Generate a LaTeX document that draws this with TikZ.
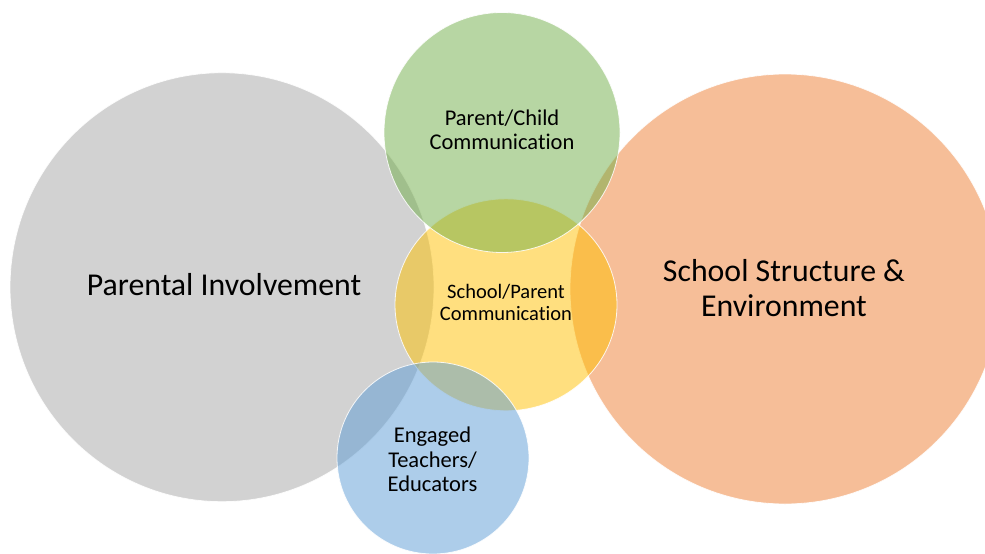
\documentclass[tikz,border=0pt]{standalone}
\usepackage{fontspec}
\setmainfont{Carlito}[Ligatures=NoCommon]
\begin{document}
\begin{tikzpicture}[x=1pt,y=-1pt,
  venn/.style={fill=#1, fill opacity=0.5, draw=white, draw opacity=0.85, line width=0.8pt},
  bigtext/.style={font=\fontsize{31.8}{35}\selectfont, align=center, text=black, inner sep=0pt},
  smalltext/.style={font=\fontsize{22.5}{24.5}\selectfont, align=center, text=black, inner sep=0pt},
  midtext/.style={font=\fontsize{20.5}{22}\selectfont, align=center, text=black, inner sep=0pt}]
\definecolor{vgray}{HTML}{A5A5A5}
\definecolor{vorange}{HTML}{ED7D31}
\definecolor{vyellow}{HTML}{FFC000}
\definecolor{vgreen}{HTML}{70AD47}
\definecolor{vblue}{HTML}{5B9BD5}
\useasboundingbox (0,0) rectangle (985,554);
\clip (0,0) rectangle (985,554);
% circles, back to front
\path[venn=vgray]   (222,287.2) ellipse [x radius=212, y radius=214.5];
\path[venn=vorange] (785,289)   ellipse [x radius=215, y radius=215];
\path[venn=vyellow] (506,304.8) ellipse [x radius=111, y radius=106];
\path[venn=vgreen]  (502,132.5) ellipse [x radius=118, y radius=120];
\path[venn=vblue]   (433,458)   ellipse [x radius=96,  y radius=96];
% labels
\node[bigtext]   (pi)  at (224,285)   {Parental Involvement};
\node[bigtext]   (sse) at (784,287.7) {School Structure \&\\Environment};
\node[smalltext] (pcc) at (502,130)   {Parent/Child\\Communication};
\node[midtext]   (spc) at (506,302.8) {School/Parent\\Communication};
\node[smalltext] (ete) at (432.5,459.3) {Engaged\\Teachers/\\Educators};
\end{tikzpicture}
\end{document}
